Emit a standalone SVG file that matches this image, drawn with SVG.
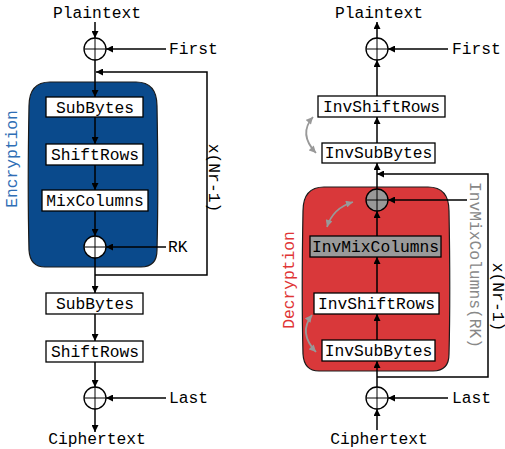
<svg xmlns="http://www.w3.org/2000/svg" width="505" height="449" viewBox="0 0 505 449">
<defs>
<marker id="ah" viewBox="0 0 10 10" refX="10" refY="5" markerWidth="8" markerHeight="7" markerUnits="userSpaceOnUse" orient="auto"><path d="M0,0 L10,5 L0,10 Z" fill="#000"/></marker>
<marker id="gh" viewBox="0 0 10 10" refX="10" refY="5" markerWidth="8" markerHeight="7" markerUnits="userSpaceOnUse" orient="auto-start-reverse"><path d="M0,0 L10,5 L0,10 Z" fill="#999"/></marker>
</defs>
<style>
text{font-family:"Liberation Mono","Courier New",monospace;font-size:16.3px;fill:#000}
.lbl{text-anchor:middle}
.box{fill:#fff;stroke:#000;stroke-width:1.3}
.gbox{fill:#9a9a9a;stroke:#000;stroke-width:1.3}
.ln{fill:none;stroke:#000;stroke-width:1.5}
.arr{fill:none;stroke:#000;stroke-width:1.5;marker-end:url(#ah)}
.garr{fill:none;stroke:#999;stroke-width:1.8;marker-start:url(#gh);marker-end:url(#gh)}
.xc{fill:#fff;stroke:#000;stroke-width:1.3}
.xg{fill:#999;stroke:#000;stroke-width:1.3}
.xl{stroke:#000;stroke-width:1}
</style>
<rect width="505" height="449" fill="#fff"/>

<g id="enc-region">
<path d="M50,82 H136 C150,82 157,90 157,106 C158,160 158,210 157,250 Q157,267 141,267 H45 Q30,267 29,250 C28,210 28,160 29,106 C29,90 36,82 50,82 Z" fill="#0a4a8c" stroke="#1a1a1a" stroke-width="1.2"/>
<text x="12" y="159" transform="rotate(-90 12 159)" text-anchor="middle" dominant-baseline="central" style="fill:#2f6eb5">Encryption</text>
</g>
<g id="dec-region">
<path d="M324,187 H428 C442,187 449,195 449,211 C450,265 450,315 449,354 Q449,371 433,371 H319 Q304,371 303,354 C302,315 302,265 303,211 C303,195 310,187 324,187 Z" fill="#d9383a" stroke="#1a1a1a" stroke-width="1.2"/>
<text x="289" y="280" transform="rotate(-90 289 280)" text-anchor="middle" dominant-baseline="central" style="fill:#e03535">Decryption</text>
</g>

<g id="connectors">
<path class="arr" d="M95,22 V38"/>
<path class="arr" d="M166,49 H106"/>
<path class="arr" d="M95,60 V97"/>
<path class="arr" d="M95,275 H207 V72 H96"/>
<path class="arr" d="M95,117 V144"/>
<path class="arr" d="M95,165 V190"/>
<path class="arr" d="M95,211 V236"/>
<path class="arr" d="M166,247 H106"/>
<path class="arr" d="M95,258 V293"/>
<path class="arr" d="M95,314 V341"/>
<path class="arr" d="M95,362 V387"/>
<path class="arr" d="M166,398 H106"/>
<path class="arr" d="M95,409 V432"/>

<path class="arr" d="M377,38 V22"/>
<path class="arr" d="M448,49 H388"/>
<path class="arr" d="M377,96 V60"/>
<path class="arr" d="M377,143 V117"/>
<path class="arr" d="M377,377 H488 V174 H377"/>
<path class="arr" d="M377,189 V163"/>
<path class="arr" d="M467,200 H388"/>
<path class="arr" d="M377,236 V211"/>
<path class="arr" d="M377,293 V257"/>
<path class="arr" d="M377,340 V314"/>
<path class="arr" d="M377,387 V361"/>
<path class="arr" d="M448,398 H388"/>
<path class="arr" d="M377,430 V409"/>

<path class="garr" d="M313,117 Q298,134 316,153"/>
<path class="garr" d="M327,227 Q333,208 353,202"/>
<path class="garr" d="M312,315 Q298,333 316,352"/>
</g>

<g id="enc-plaintext"><text class="lbl" x="97" y="18">Plaintext</text></g>
<g id="enc-xor-first"><circle class="xc" cx="95" cy="49" r="11"/><path class="xl" d="M84,49 H106 M95,38 V60"/></g>
<g id="enc-first"><text x="169" y="54">First</text></g>
<g id="enc-subbytes"><rect class="box" x="46" y="97" width="97" height="20"/><text class="lbl" x="95" y="112.5">SubBytes</text></g>
<g id="enc-shiftrows"><rect class="box" x="46" y="144" width="97" height="21"/><text class="lbl" x="95" y="159.5">ShiftRows</text></g>
<g id="enc-mixcolumns"><rect class="box" x="42" y="190" width="106" height="21"/><text class="lbl" x="95" y="205.5">MixColumns</text></g>
<g id="enc-xor-rk"><circle class="xc" cx="95" cy="247" r="11"/><path class="xl" d="M84,247 H106 M95,236 V258"/></g>
<g id="enc-rk"><text x="168" y="252">RK</text></g>
<g id="enc-loop-label"><text x="213" y="178" transform="rotate(90 213 178)" text-anchor="middle" dominant-baseline="central">x(Nr-1)</text></g>
<g id="enc-subbytes-final"><rect class="box" x="46" y="293" width="97" height="21"/><text class="lbl" x="95" y="308.5">SubBytes</text></g>
<g id="enc-shiftrows-final"><rect class="box" x="46" y="341" width="97" height="21"/><text class="lbl" x="95" y="356.5">ShiftRows</text></g>
<g id="enc-xor-last"><circle class="xc" cx="95" cy="398" r="11"/><path class="xl" d="M84,398 H106 M95,387 V409"/></g>
<g id="enc-last"><text x="169" y="403">Last</text></g>
<g id="enc-ciphertext"><text class="lbl" x="97" y="444">Ciphertext</text></g>

<g id="dec-plaintext"><text class="lbl" x="379" y="18">Plaintext</text></g>
<g id="dec-xor-first"><circle class="xc" cx="377" cy="49" r="11"/><path class="xl" d="M366,49 H388 M377,38 V60"/></g>
<g id="dec-first"><text x="452" y="54">First</text></g>
<g id="dec-invshiftrows-final"><rect class="box" x="318" y="96" width="127" height="21"/><text class="lbl" x="381.5" y="111.5">InvShiftRows</text></g>
<g id="dec-invsubbytes-final"><rect class="box" x="322" y="143" width="113" height="20"/><text class="lbl" x="378.5" y="158">InvSubBytes</text></g>
<g id="dec-xor-rk"><circle class="xg" cx="377" cy="200" r="11"/><path class="xl" d="M366,200 H388 M377,189 V211"/></g>
<g id="dec-invmixcolumns"><rect class="gbox" x="310" y="236" width="131" height="21"/><text class="lbl" x="375.5" y="251.5">InvMixColumns</text></g>
<g id="dec-invshiftrows"><rect class="box" x="314" y="293" width="125" height="21"/><text class="lbl" x="376.5" y="308.5">InvShiftRows</text></g>
<g id="dec-invsubbytes"><rect class="box" x="322" y="340" width="113" height="21"/><text class="lbl" x="378.5" y="355.5">InvSubBytes</text></g>
<g id="dec-rk-label"><text x="474" y="265" transform="rotate(90 474 265)" text-anchor="middle" dominant-baseline="central" style="fill:#888">InvMixColumns(RK)</text></g>
<g id="dec-loop-label"><text x="497" y="297" transform="rotate(90 497 297)" text-anchor="middle" dominant-baseline="central">x(Nr-1)</text></g>
<g id="dec-xor-last"><circle class="xc" cx="377" cy="398" r="11"/><path class="xl" d="M366,398 H388 M377,387 V409"/></g>
<g id="dec-last"><text x="452" y="403">Last</text></g>
<g id="dec-ciphertext"><text class="lbl" x="379" y="444">Ciphertext</text></g>
</svg>
